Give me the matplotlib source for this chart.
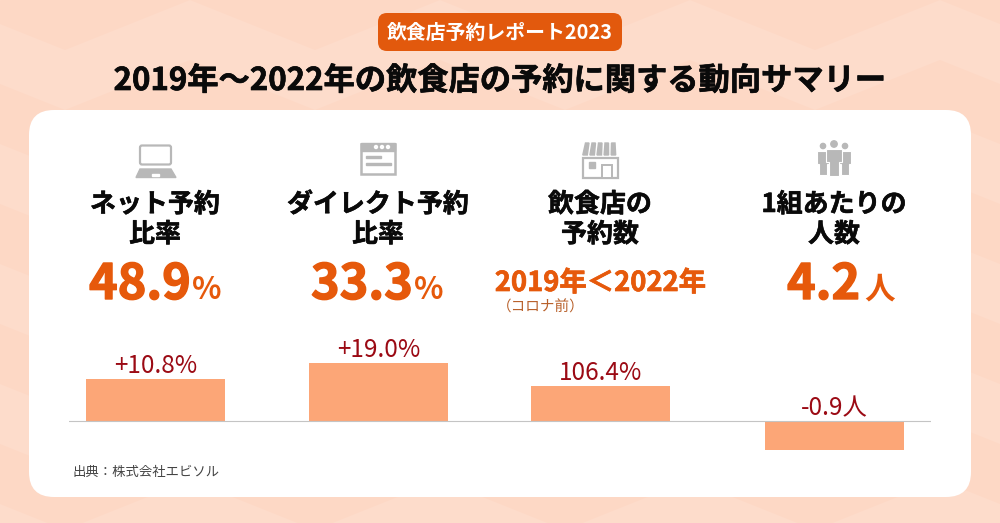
import matplotlib.pyplot as plt
import matplotlib.patheffects as pe
from matplotlib.patches import FancyBboxPatch, Rectangle, Polygon, Circle

plt.rcParams['font.family'] = ['Noto Sans CJK JP', 'DejaVu Sans']

titleBadge = '飲食店予約レポート2023'
title = '2019年～2022年の飲食店の予約に関する動向サマリー'
headings = ['ネット予約\n比率', 'ダイレクト予約\n比率', '飲食店の\n予約数', '1組あたりの\n人数']
bigValues = ['48.9', '33.3', '4.2']
bigUnits = ['%', '%', '人']
yearCompare = '2019年＜2022年'
yearNote = '（コロナ前）'
barLabels = ['+10.8%', '+19.0%', '106.4%', '-0.9人']
barHeights = [42, 58, 35, -29]   # the bars are not on one scale, so heights are read off the picture
source = '出典：株式会社エビソル'

ORANGE = '#e6590b'
GRAY = '#b8b8b8'


def heavy(color, width):
    return [pe.withStroke(linewidth=width, foreground=color)]   # the picture's bold is heavier than ours


def drawBackground(ax):
    ax.add_patch(Rectangle((0, 0), 1000, 523, color='#fdd8c5', zorder=0))
    # soft zigzag bands behind the card
    xs = [-60 + 125 * i for i in range(11)]
    for row in range(-1, 8):
        top = [row * 120 + (50 if i % 2 else 0) for i in range(11)]
        bottom = [t + 60 for t in top]
        ax.fill_between(xs, top, bottom, color='#fddccb', lw=0, zorder=1)
    ax.add_patch(FancyBboxPatch((378, 13), 244, 38, boxstyle='round,pad=0,rounding_size=9',
                                fc='#e2590d', ec='none', zorder=3))
    ax.add_patch(FancyBboxPatch((29, 110), 942, 387, boxstyle='round,pad=0,rounding_size=25',
                                fc='white', ec='none', zorder=2))


def drawIcons(ax):
    # laptop
    ax.add_patch(FancyBboxPatch((140, 145.5), 31, 19, boxstyle='round,pad=0,rounding_size=2',
                                fc='white', ec=GRAY, lw=1.6, zorder=3))
    ax.add_patch(Polygon([[140, 169], [171, 169], [176, 177.5], [136, 177.5]], color=GRAY, zorder=3))
    ax.add_patch(Rectangle((152, 173.5), 7, 2, color='white', zorder=4))
    # browser window
    ax.add_patch(Rectangle((361, 143.5), 34, 30, fc='white', ec=GRAY, lw=1.8, zorder=3))
    ax.add_patch(Rectangle((361, 143), 34, 8, color=GRAY, zorder=4))
    for x in [376, 382, 388]:
        ax.add_patch(Circle((x, 147), 1.5, color='white', zorder=5))
    ax.add_patch(Rectangle((366, 156), 15, 2, color=GRAY, zorder=4))
    ax.add_patch(Rectangle((366, 163), 25, 2, color=GRAY, zorder=4))
    # store
    ax.add_patch(Rectangle((583, 158), 35, 20, fc='white', ec=GRAY, lw=1.6, zorder=3))
    for i in range(5):
        left = 584.5 + i * 6.5
        ax.add_patch(Polygon([[left + 1, 143], [left + 4.5, 143], [left + 4 + (i - 2) * 0.6, 155],
                              [left - 0.5 + (i - 2) * 0.6, 155]], color=GRAY, zorder=4))
    ax.add_patch(Rectangle((589, 162), 6, 6, color=GRAY, zorder=4))
    ax.add_patch(Rectangle((602, 165), 10, 13, fc='white', ec=GRAY, lw=1.4, zorder=4))
    # people
    for cx, top, bottom, half in [(823, 151, 175, 6), (845, 151, 175, 6), (834, 149, 176, 8)]:
        ax.add_patch(Circle((cx, top - 5), 2.6 if half == 6 else 3.2, color=GRAY, zorder=4))
        ax.add_patch(Polygon([[cx - half, top], [cx + half, top], [cx + half, top + 13],
                              [cx + half * 0.65, top + 13], [cx + half * 0.65, bottom],
                              [cx - half * 0.65, bottom], [cx - half * 0.65, top + 13], [cx - half, top + 13]],
                             fc=GRAY, ec='white', lw=0.8, zorder=4 if half == 6 else 5))


def drawTexts(ax):
    ax.text(500, 39, titleBadge, color='white', fontsize=14.3, fontweight='bold', ha='center', zorder=6)
    ax.text(500, 90, title, color='#0a0a0a', fontsize=22.5, fontweight='bold', ha='center', zorder=6,
            path_effects=heavy('#0a0a0a', 0.5))
    centers = [155, 378, 600, 834]
    for cx, heading in zip(centers, headings):
        first, second = heading.split('\n')
        ax.text(cx, 212, first, color='#0a0a0a', fontsize=18.7, fontweight='bold', ha='center', zorder=6,
                path_effects=heavy('#0a0a0a', 0.4))
        ax.text(cx, 242, second, color='#0a0a0a', fontsize=18.7, fontweight='bold', ha='center', zorder=6,
                path_effects=heavy('#0a0a0a', 0.4))
    for x, unitX, value, unit in zip([89, 311, 787], [192, 414, 864], bigValues, bigUnits):
        ax.text(x, 299, value, color=ORANGE, fontsize=35, fontweight='bold', zorder=6,
                path_effects=heavy(ORANGE, 1.0))
        ax.text(unitX, 299, unit, color=ORANGE, fontsize=22, fontweight='bold', zorder=6)
    ax.text(600.5, 291, yearCompare, color=ORANGE, fontsize=19.7, fontweight='bold', ha='center', zorder=6,
            path_effects=heavy(ORANGE, 0.5))
    ax.text(541, 312, yearNote, color='#b8602a', fontsize=10.5, ha='center', zorder=6)
    ax.text(72, 476, source, color='#444444', fontsize=9.6, zorder=6)


def drawBars(fig):
    ax = fig.add_axes([0.069, 1 - 460 / 523, 0.862, 120 / 523])   # same pixels as the picture
    ax.patch.set_alpha(0)
    ax.set_xlim(69, 931)
    ax.set_ylim(-39, 81)
    positions = [155.5, 378.5, 600.5, 834.5]
    ax.bar(positions, barHeights, width=139, color='#fca677', zorder=2)
    ax.axhline(0, color='#c4c4c4', lw=0.8, zorder=3)
    for x, h, label in zip(positions, barHeights, barLabels):
        ax.text(x, max(h, 0) + 6, label, color='#9b0a14', fontsize=17.5, ha='center', va='baseline')
    ax.axis('off')


fig = plt.figure(figsize=(10, 5.23), dpi=100)
ax = fig.add_axes([0, 0, 1, 1])
ax.set_xlim(0, 1000)
ax.set_ylim(523, 0)
ax.axis('off')
drawBackground(ax)
drawIcons(ax)
drawTexts(ax)
drawBars(fig)
fig.savefig('out.png', dpi=100)
